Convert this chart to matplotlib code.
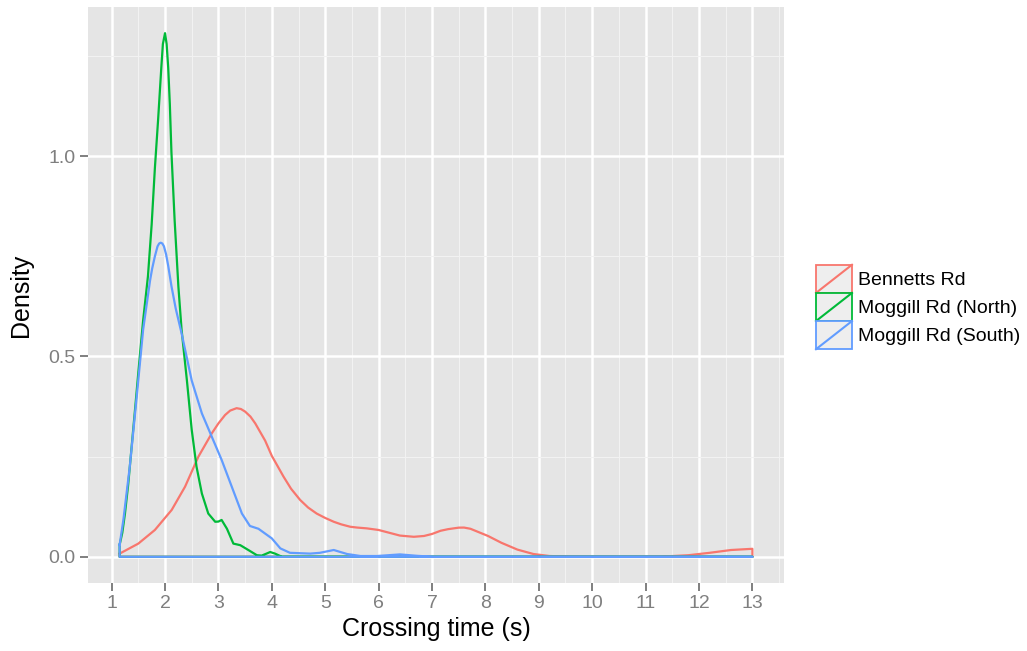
## Density of crossing times by site (ggplot-style look)

import numpy as np
import matplotlib.pyplot as plt
from matplotlib.legend_handler import HandlerBase
from matplotlib.patches import Rectangle
from matplotlib.lines import Line2D
from matplotlib.ticker import MultipleLocator

## -----------------------
## Data
site_names = ["Bennetts Rd", "Moggill Rd (North)", "Moggill Rd (South)"]
site_colors = ["#F8766D", "#00BA38", "#619CFF"]

bennetts_x = [1.15, 1.5, 1.81, 2.125, 2.375, 2.625, 2.875, 3.0, 3.125, 3.22, 3.34, 3.42, 3.5, 3.6,
              3.69, 3.875, 4.0, 4.22, 4.36, 4.53, 4.68, 4.84, 5.0, 5.16, 5.3, 5.47, 5.6, 5.78, 6.0,
              6.2, 6.4, 6.66, 6.85, 7.0, 7.16, 7.3, 7.5, 7.6, 7.72, 7.83, 8.05, 8.3, 8.6, 8.9, 9.2,
              9.6, 10.5, 11.3, 11.8, 12.2, 12.6, 13.0]
bennetts_y = [0.008, 0.033, 0.067, 0.117, 0.175, 0.25, 0.308, 0.333, 0.354, 0.365, 0.371, 0.369, 0.3625, 0.35,
              0.333, 0.29, 0.252, 0.2, 0.17, 0.142, 0.123, 0.108, 0.097, 0.0875, 0.081, 0.075, 0.073, 0.071, 0.067,
              0.06, 0.053, 0.05, 0.052, 0.057, 0.065, 0.069, 0.0728, 0.073, 0.07, 0.064, 0.052, 0.035, 0.018, 0.007, 0.002,
              0.0005, 0.0, 0.0005, 0.004, 0.01, 0.017, 0.02]

north_x = [1.15, 1.2, 1.25, 1.31, 1.375, 1.44, 1.5, 1.59, 1.68, 1.75, 1.81, 1.87, 1.93, 1.96, 2.0, 2.03,
           2.06, 2.09, 2.12, 2.18, 2.25, 2.31, 2.41, 2.5, 2.59, 2.69, 2.81, 2.94, 3.0, 3.06, 3.16, 3.28,
           3.41, 3.56, 3.72, 3.81, 3.9, 3.97, 4.06, 4.19, 13.0]
north_y = [0.03, 0.06, 0.108, 0.18, 0.275, 0.37, 0.46, 0.59, 0.70, 0.83, 0.97, 1.09, 1.22, 1.28, 1.307, 1.28,
           1.22, 1.13, 1.01, 0.84, 0.675, 0.567, 0.44, 0.317, 0.225, 0.158, 0.108, 0.0875, 0.088, 0.092, 0.07, 0.033,
           0.029, 0.017, 0.004, 0.003, 0.008, 0.012, 0.008, 0.0, 0.0]

south_x = [1.15, 1.22, 1.34, 1.47, 1.59, 1.72, 1.76, 1.81, 1.86, 1.89, 1.92, 1.95, 1.98, 2.02, 2.06,
           2.12, 2.2, 2.31, 2.5, 2.69, 2.875, 3.06, 3.25, 3.44, 3.59, 3.75, 3.875, 4.0, 4.16, 4.34,
           4.72, 4.9, 5.16, 5.41, 5.66, 5.97, 6.4, 6.72, 7.03, 13.0]
south_y = [0.03, 0.092, 0.225, 0.40, 0.567, 0.69, 0.72, 0.75, 0.775, 0.782, 0.784, 0.782, 0.775, 0.755, 0.726,
           0.676, 0.62, 0.558, 0.44, 0.358, 0.3, 0.242, 0.175, 0.108, 0.077, 0.07, 0.058, 0.046, 0.021, 0.01,
           0.008, 0.01, 0.017, 0.007, 0.002, 0.002, 0.006, 0.0025, 0.0, 0.0]

x_breaks = list(range(1, 14))
y_breaks = [0.0, 0.5, 1.0]
y_labels = ["0.0", "0.5", "1.0"]

## -----------------------
## Legend key: box outline + diagonal, like ggplot's density key
class DensityKey(HandlerBase):
    def create_artists(self, legend, orig_handle, xdescent, ydescent, width, height, fontsize, trans):
        c = orig_handle.get_color()
        x0, y0 = -xdescent, -ydescent
        box = Rectangle((x0, y0), width, height, facecolor="#EEEEEE", edgecolor=c,
                        lw=1.3, transform=trans)
        diag = Line2D([x0, x0 + width], [y0, y0 + height], color=c, lw=1.5, transform=trans)
        return [box, diag]

plt.rcParams['font.family'] = ['Liberation Sans', 'DejaVu Sans']

fig = plt.figure(figsize=(10.27, 6.51), dpi=100)
ax = fig.add_axes([88/1027, 68/651, 696/1027, 576/651])
ax.set_facecolor("#E5E5E5")
for s in ax.spines.values():
    s.set_visible(False)

series = [(bennetts_x, bennetts_y), (north_x, north_y), (south_x, south_y)]
handles = []
for (xs, ys), name, col in zip(series, site_names, site_colors):
    xs = np.asarray(xs)
    ys = np.asarray(ys)
    ## closed outline like geom_density: curve, down, baseline, back up
    px = np.r_[xs, xs[-1], xs[0], xs[0]]
    py = np.r_[ys, 0, 0, ys[0]]
    h, = ax.plot(px, py, color=col, lw=1.6, solid_joinstyle="round", zorder=3, label=name)
    handles.append(h)

## limits with 5% expansion
xmin, xmax = 1.15, 13.0
ymax = 1.307
ax.set_xlim(xmin - 0.05*(xmax - xmin), xmax + 0.05*(xmax - xmin))
ax.set_ylim(-0.05*ymax, 1.05*ymax)

ax.set_xticks(x_breaks)
ax.set_xticklabels([str(v) for v in x_breaks])
ax.set_yticks(y_breaks)
ax.set_yticklabels(y_labels)
ax.xaxis.set_minor_locator(MultipleLocator(0.5))
ax.yaxis.set_minor_locator(MultipleLocator(0.25))
ax.grid(which="major", color="white", lw=1.8, zorder=0)
ax.grid(which="minor", color="#F2F2F2", lw=0.8, zorder=0)
ax.set_axisbelow(True)
ax.tick_params(which="major", length=6, width=1.4, color="#7F7F7F",
               labelcolor="#7F7F7F", labelsize=14, pad=3)
ax.tick_params(which="minor", length=0)

ax.set_xlabel("Crossing time (s)", fontsize=18, labelpad=3)
ax.set_ylabel("Density", fontsize=18)
ax.yaxis.set_label_coords(-0.079, 0.5)

fig.legend(handles=handles, labels=site_names, handler_map={Line2D: DensityKey()},
           loc="center left", bbox_to_anchor=(816/1027, 1 - 307/651), frameon=False,
           fontsize=14, handlelength=1.85, handleheight=1.85, labelspacing=0.0,
           handletextpad=0.3, borderpad=0, borderaxespad=0)

fig.savefig("out.png", dpi=100)
